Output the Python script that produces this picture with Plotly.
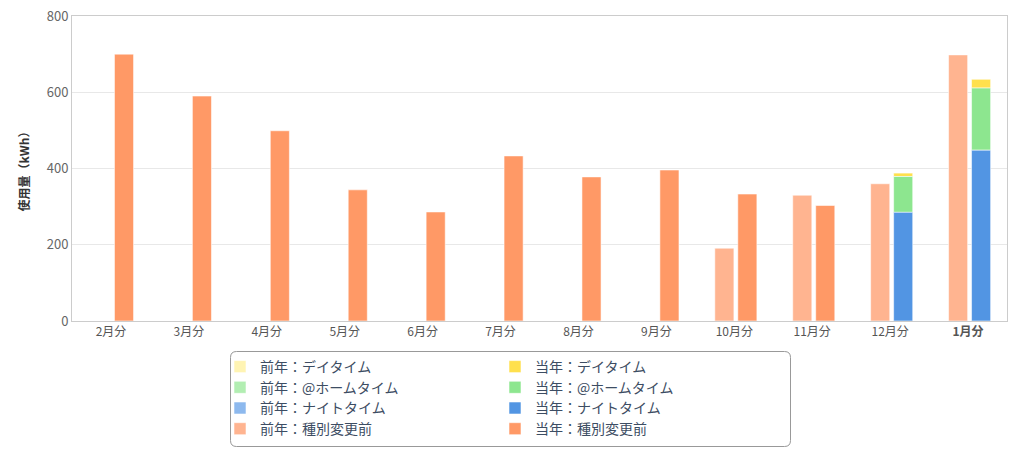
import plotly.graph_objects as go

categories = ["2月分", "3月分", "4月分", "5月分", "6月分", "7月分", "8月分", "9月分", "10月分", "11月分", "12月分", "1月分"]
tick_labels = ["2月分", "3月分", "4月分", "5月分", "6月分", "7月分", "8月分", "9月分", "10月分", "11月分", "12月分", "<b>1月分</b>"]

prev_day = [None] * 12
prev_home = [None] * 12
prev_night = [None] * 12
prev_before = [None, None, None, None, None, None, None, None, 191, 330, 360, 698]

cur_day = [None, None, None, None, None, None, None, None, None, None, 9, 23]
cur_home = [None, None, None, None, None, None, None, None, None, None, 94, 163]
cur_night = [None, None, None, None, None, None, None, None, None, None, 285, 448]
cur_before = [700, 590, 499, 344, 286, 433, 378, 396, 333, 303, None, None]

COL = {
    "prev_day": "#FFF4B3", "cur_day": "#FFE04D",
    "prev_home": "#B2EEB2", "cur_home": "#8DE68F",
    "prev_night": "#8DB9EE", "cur_night": "#5295E3",
    "prev_before": "#FFB490", "cur_before": "#FF9966",
}


def z(v):
    return [0 if a is None else a for a in v]


def add_base(*arrs):
    out = [0] * 12
    for a in arrs:
        out = [o + b for o, b in zip(out, z(a))]
    return out


fig = go.Figure()

specs = [
    ("前年：デイタイム", prev_day, "prev_day", add_base(prev_night, prev_home), -0.25, "legend"),
    ("当年：デイタイム", cur_day, "cur_day", add_base(cur_night, cur_home), 0.045, "legend"),
    ("前年：@ホームタイム", prev_home, "prev_home", add_base(prev_night), -0.25, "legend2"),
    ("当年：@ホームタイム", cur_home, "cur_home", add_base(cur_night), 0.045, "legend2"),
    ("前年：ナイトタイム", prev_night, "prev_night", add_base(), -0.25, "legend3"),
    ("当年：ナイトタイム", cur_night, "cur_night", add_base(), 0.045, "legend3"),
    ("前年：種別変更前", prev_before, "prev_before", add_base(), -0.25, "legend4"),
    ("当年：種別変更前", cur_before, "cur_before", add_base(), 0.045, "legend4"),
]

for name, vals, key, base, off, lg in specs:
    fig.add_trace(go.Bar(
        x=categories, y=vals, base=base, name=name,
        offset=off, width=0.245, legend=lg,
        marker=dict(color=COL[key], line=dict(color="rgba(255,255,255,0.55)", width=1)),
    ))

W, H = 1024, 454
# rounded legend frame (container pixel -> paper fraction)
L, R, T, B = 230.5, 790.5, 351.5, 446.5
pl, pt, pw, ph = 72, 16, 935, 305
def px(x):
    return (x - pl) / pw
def py(y):
    return (pt + ph - y) / ph
r = 6
path = (f"M {px(L + r)} {py(T)} L {px(R - r)} {py(T)} Q {px(R)} {py(T)} {px(R)} {py(T + r)} "
        f"L {px(R)} {py(B - r)} Q {px(R)} {py(B)} {px(R - r)} {py(B)} "
        f"L {px(L + r)} {py(B)} Q {px(L)} {py(B)} {px(L)} {py(B - r)} "
        f"L {px(L)} {py(T + r)} Q {px(L)} {py(T)} {px(L + r)} {py(T)} Z")
fig.add_shape(type="path", xref="paper", yref="paper", path=path,
              line=dict(color="#999999", width=1))


def legend_row(i):
    return dict(
        orientation="h", xref="container", yref="container",
        x=220 / W, xanchor="left", y=(H - 351 - 20.7 * i) / H, yanchor="top",
        entrywidth=230, entrywidthmode="pixels",
        font=dict(size=14, color="#3d4d63"), bgcolor="rgba(0,0,0,0)",
        traceorder="normal",
    )


fig.update_layout(
    width=W, height=H,
    margin=dict(l=72, r=17, t=16, b=133),
    barmode="overlay",
    plot_bgcolor="white", paper_bgcolor="white",
    font=dict(family="Noto Sans CJK JP", size=12, color="#555555"),
    showlegend=True,
    legend=legend_row(0),
    legend2=legend_row(1),
    legend3=legend_row(2),
    legend4=legend_row(3),
    xaxis=dict(
        type="category", categoryorder="array", categoryarray=categories,
        tickmode="array", tickvals=categories, ticktext=tick_labels,
        showline=True, linecolor="#cccccc", linewidth=1, mirror=True,
        showgrid=False, ticks="", tickfont=dict(size=12, color="#555555"),
        range=[-0.5, 11.5], automargin=False,
    ),
    yaxis=dict(
        range=[0, 800], dtick=200, showgrid=True, gridcolor="#e8e8e8",
        showline=True, linecolor="#cccccc", linewidth=1, mirror=True,
        zeroline=False, ticks="", tickfont=dict(size=13, color="#666666"),
        title=dict(text="<b>使用量（kWh）</b>", font=dict(size=12, color="#333333"), standoff=14),
        automargin=False,
    ),
)

fig.write_html("out.html")
